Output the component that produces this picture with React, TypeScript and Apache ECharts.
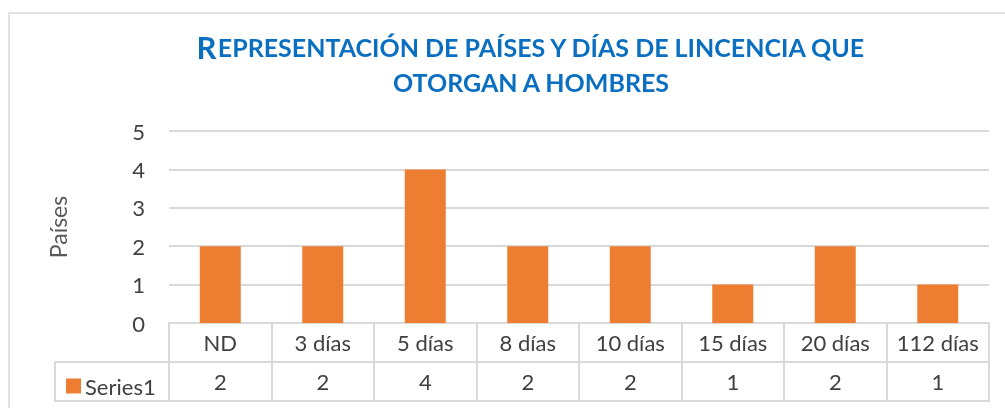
import React, { useEffect, useRef } from "react";
import * as echarts from "echarts";

const categories = ["ND", "3 días", "5 días", "8 días", "10 días", "15 días", "20 días", "112 días"];
const values = [2, 2, 4, 2, 2, 1, 2, 1];
const seriesName = "Series1";
const yAxisName = "Países";
const titleFirst = "R";
const titleRest = "EPRESENTACIÓN DE PAÍSES Y DÍAS DE LINCENCIA QUE";
const titleLine2 = "OTORGAN A HOMBRES";

const FONT = "Lato";
const TEXT = "#404040";
const GRID = "#d9d9d9";
const BAR = "#ED7D31";

export default function App() {
  const ref = useRef<HTMLDivElement>(null);
  useEffect(() => {
    if (!ref.current) return;
    const chart = echarts.init(ref.current, null, { renderer: "svg" });
    chart.setOption({
      animation: false,
      textStyle: { fontFamily: FONT },
      title: {
        left: 526,
        top: 24,
        textAlign: "center",
        text: `{b|${titleFirst}}{s|${titleRest}}\n{s|${titleLine2}}`,
        textStyle: {
          rich: {
            b: { fontFamily: FONT, fontWeight: "bold", fontSize: 31, color: "#0B6FC1", lineHeight: 35 },
            s: { fontFamily: FONT, fontWeight: "bold", fontSize: 25, color: "#0B6FC1", lineHeight: 35 },
          },
        },
      },
      legend: {
        left: 61,
        top: 370,
        icon: "rect",
        itemWidth: 15,
        itemHeight: 15,
        itemGap: 5,
        textStyle: { fontFamily: FONT, fontSize: 22, color: TEXT, padding: [0, 0, 0, -1] },
        data: [seriesName],
      },
      grid: { left: 169, right: 16, top: 131, bottom: 85, containLabel: false },
      xAxis: [
        {
          type: "category",
          data: categories,
          position: "bottom",
          axisLine: { show: true, lineStyle: { color: GRID, width: 2 } },
          axisTick: { show: true, interval: 0, length: 78, lineStyle: { color: GRID, width: 2 } },
          axisLabel: { interval: 0, margin: 8, fontFamily: FONT, fontSize: 22, color: TEXT },
        },
        {
          type: "category",
          data: categories,
          position: "bottom",
          offset: 39,
          axisLine: { show: true, lineStyle: { color: GRID, width: 2 } },
          axisTick: { show: false },
          axisLabel: {
            interval: 0,
            margin: 8,
            fontFamily: FONT,
            fontSize: 22,
            color: TEXT,
            formatter: (_v: string, i: number) => String(values[i]),
          },
        },
        {
          type: "category",
          data: categories,
          position: "bottom",
          offset: 78,
          axisLine: { show: true, lineStyle: { color: GRID, width: 2 } },
          axisTick: { show: false },
          axisLabel: { show: false },
        },
      ],
      yAxis: {
        type: "value",
        min: 0,
        max: 5,
        interval: 1,
        name: yAxisName,
        nameLocation: "middle",
        nameRotate: 90,
        nameGap: 100,
        nameTextStyle: { fontFamily: FONT, fontSize: 23, color: "#595959" },
        axisLine: { show: false },
        axisTick: { show: false },
        axisLabel: { margin: 24, fontFamily: FONT, fontSize: 22, color: TEXT },
        splitLine: { lineStyle: { color: GRID, width: 2 } },
      },
      series: [
        {
          type: "bar",
          name: seriesName,
          data: values,
          xAxisIndex: 0,
          barWidth: "40%",
          itemStyle: { color: BAR },
        },
      ],
      graphic: [
        {
          type: "rect",
          silent: true,
          shape: { x: 9, y: 13, width: 1100, height: 500 },
          style: { fill: "none", stroke: GRID, lineWidth: 1.5 },
        },
        {
          type: "rect",
          silent: true,
          shape: { x: 55, y: 362, width: 114, height: 39 },
          style: { fill: "none", stroke: GRID, lineWidth: 2 },
        },
      ],
    });
    return () => chart.dispose();
  }, []);
  return <div ref={ref} style={{ position: "fixed", left: 0, top: 0, width: 1005, height: 408 }} />;
}
